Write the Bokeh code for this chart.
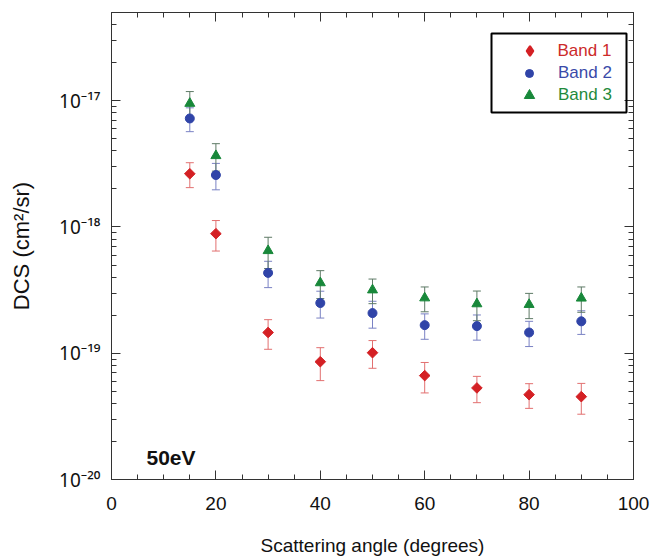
import numpy as np
from bokeh.plotting import figure
from bokeh.models import (ColumnDataSource, Range1d, FixedTicker, LinearAxis, LogAxis,
                          CustomJSTickFormatter, Whisker, TeeHead, Legend, LegendItem,
                          BoxAnnotation, Label)
from bokeh.embed import file_html
from bokeh.resources import INLINE

# ---- data ----
angles = [15, 20, 30, 40, 50, 60, 70, 80, 90]
band1 = [2.64e-18, 8.85e-19, 1.46e-19, 8.57e-20, 1.01e-19, 6.65e-20, 5.31e-20, 4.70e-20, 4.53e-20]
band1_err = [0.59e-18, 0.24e-18, 0.385e-19, 0.25e-19, 0.25e-19, 1.8e-20, 1.25e-20, 1.04e-20, 1.24e-20]
band2 = [7.24e-18, 2.58e-18, 4.33e-19, 2.50e-19, 2.08e-19, 1.67e-19, 1.64e-19, 1.46e-19, 1.79e-19]
band2_err = [1.55e-18, 0.61e-18, 1.02e-19, 0.60e-19, 0.50e-19, 0.38e-19, 0.37e-19, 0.33e-19, 0.38e-19]
band3 = [9.52e-18, 3.67e-18, 6.49e-19, 3.61e-19, 3.17e-19, 2.74e-19, 2.46e-19, 2.43e-19, 2.73e-19]
band3_err = [2.3e-18, 0.9e-18, 1.8e-19, 0.9e-19, 0.7e-19, 0.61e-19, 0.65e-19, 0.55e-19, 0.62e-19]
series_names = ["Band 1", "Band 2", "Band 3"]
x_ticks = [0, 20, 40, 60, 80, 100]
x_minor = [v for v in range(0, 101, 5) if v % 20 != 0]
y_exps = [-20, -19, -18, -17]
energy_label = "50eV"

FONT = "Liberation Sans"
y_major = [10.0 ** e for e in y_exps]
y_minor = [k * 10.0 ** e for e in y_exps for k in range(2, 10)]

p = figure(width=652, height=558, output_backend="svg", toolbar_location=None,
           x_range=Range1d(0, 100), y_range=Range1d(1e-20, 5e-17), y_axis_type="log",
           min_border_left=111, min_border_right=19, min_border_top=12, min_border_bottom=79)
p.xgrid.visible = False
p.ygrid.visible = False
p.outline_line_color = "#333333"
p.background_fill_color = "white"
p.border_fill_color = "white"

blank = CustomJSTickFormatter(code="return ''")
sup_js = """
const e = Math.round(Math.log10(tick));
const m = {'-':'\u207b','0':'\u2070','1':'\u00b9','2':'\u00b2','3':'\u00b3','4':'\u2074','5':'\u2075','6':'\u2076','7':'\u2077','8':'\u2078','9':'\u2079'};
return '10' + String(e).split('').map(c => m[c]).join('');
"""

def style_axis(ax):
    ax.axis_line_color = "#333333"
    ax.major_tick_line_color = "#333333"
    ax.minor_tick_line_color = "#333333"
    ax.major_tick_in = 9
    ax.major_tick_out = 0
    ax.minor_tick_in = 5
    ax.minor_tick_out = 0
    ax.major_label_text_font = FONT
    ax.major_label_text_font_size = "19px"
    ax.major_label_text_color = "#111111"

xa = p.xaxis[0]
xa.ticker = FixedTicker(ticks=x_ticks, minor_ticks=x_minor)
style_axis(xa)
xa.major_label_standoff = 17
xa.axis_label = "Scattering angle (degrees)"
xa.axis_label_text_font = FONT
xa.axis_label_text_font_size = "19px"
xa.axis_label_text_font_style = "normal"
xa.axis_label_standoff = 22
xa.axis_label_text_color = "#111111"

ya = p.yaxis[0]
ya.ticker = FixedTicker(ticks=y_major, minor_ticks=y_minor)
ya.formatter = CustomJSTickFormatter(code=sup_js)
style_axis(ya)
ya.major_label_text_font = "Noto Sans"
ya.major_label_text_font_size = "19px"
ya.major_label_standoff = 11
ya.axis_label = "DCS (cm\u00b2/sr)"
ya.axis_label_text_font = FONT
ya.axis_label_text_font_size = "22px"
ya.axis_label_text_font_style = "normal"
ya.axis_label_standoff = 22
ya.axis_label_text_color = "#111111"

top = LinearAxis(ticker=FixedTicker(ticks=x_ticks, minor_ticks=x_minor), formatter=blank)
style_axis(top)
top.major_label_standoff = 0
p.add_layout(top, "above")
right = LogAxis(ticker=FixedTicker(ticks=y_major, minor_ticks=y_minor), formatter=blank)
style_axis(right)
right.major_label_standoff = 0
p.add_layout(right, "right")

# ---- series ----
specs = [
    (band1, band1_err, "square", 7.5, np.pi / 4, "#d42024", "#e27070", "#cc2a2a", "diamond"),
    (band2, band2_err, "circle", 9, 0.0, "#3044a8", "#7a82c4", "#3a4aa8", "circle"),
    (band3, band3_err, "triangle", 10, 0.0, "#18883a", "#5e7a66", "#1f8a3c", "triangle"),
]
legend_renderers = []
for vals, errs, marker, size, ang, col, ecol, tcol, lmarker in specs:
    v = np.array(vals)
    e = np.array(errs)
    src = ColumnDataSource(dict(x=angles, y=v, lo=v - e, hi=v + e))
    w = Whisker(base="x", lower="lo", upper="hi", source=src, dimension="height",
                line_color=ecol, line_width=1, level="underlay",
                upper_head=TeeHead(size=8, line_color=ecol, line_width=1),
                lower_head=TeeHead(size=8, line_color=ecol, line_width=1))
    p.add_layout(w)
    r = p.scatter("x", "y", source=src, marker=marker, size=size, angle=ang,
                  fill_color=col, line_color=col)
    if lmarker != marker:
        # legend swatch only (legend glyphs are never rotated): hidden diamond renderer
        r = p.scatter("x", "y", source=src, marker=lmarker, fill_color=col,
                      line_color=col, line_width=2, visible=False)
    legend_renderers.append(r)

# ---- legend ----
leg_glyph = [25, 20, 26]
leg_center = [428.5, 406.5, 384.5]   # row centres, px above frame bottom
for name, r, spec, g, c in zip(series_names, legend_renderers, specs, leg_glyph, leg_center):
    lg = Legend(items=[LegendItem(label=name, renderers=[r])],
                location=(418 - g / 2, c - g / 2),
                padding=0, margin=0, spacing=0,
                glyph_width=g, glyph_height=g, label_standoff=int(447 - (418 + g / 2)),
                border_line_alpha=0, background_fill_alpha=0,
                label_text_font=FONT, label_text_font_size="17px",
                label_text_color=spec[7], label_height=g)
    p.add_layout(lg, "center")

box = BoxAnnotation(left=380, right=515, top=446, bottom=367,
                    left_units="screen", right_units="screen",
                    top_units="screen", bottom_units="screen",
                    fill_alpha=0, line_color="black", line_alpha=1.0, line_width=2,
                    level="overlay")
p.add_layout(box)

p.add_layout(Label(x=35, y=22, x_units="screen", y_units="screen", text=energy_label,
                   text_font=FONT, text_font_size="21px", text_font_style="bold",
                   text_color="#111111", text_baseline="alphabetic"))

open("out.html", "w").write(file_html(p, INLINE))
